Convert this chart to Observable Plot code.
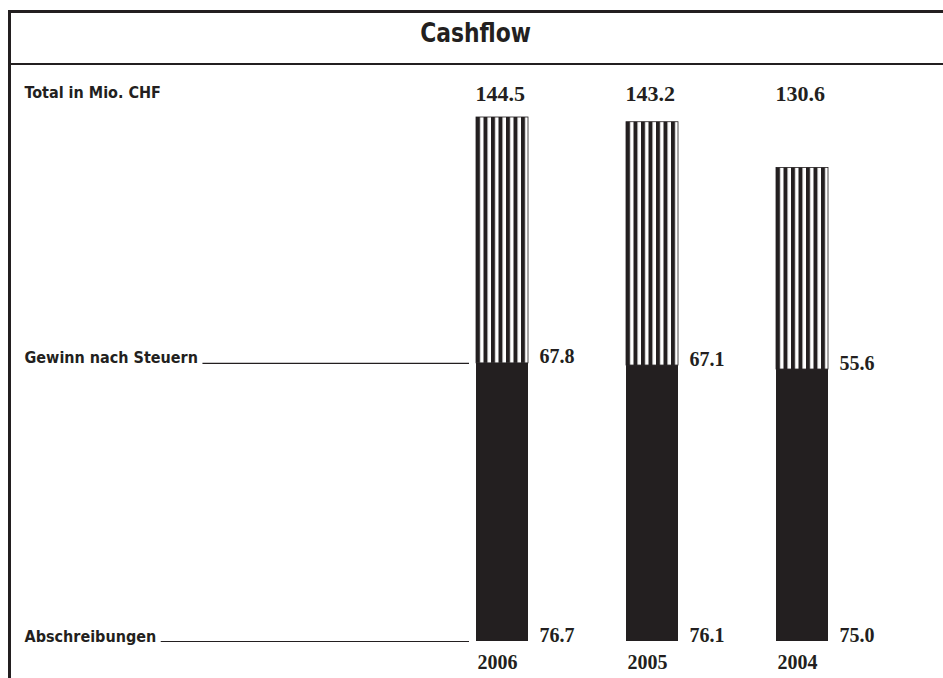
<!DOCTYPE html>
<html>
<head>
<meta charset="utf-8">
<script src="https://cdn.jsdelivr.net/npm/d3@7"></script>
<script src="https://cdn.jsdelivr.net/npm/@observablehq/plot@0.6"></script>
<style>
  html, body { margin: 0; padding: 0; background: white; }
  body { position: relative; width: 943px; height: 678px; overflow: hidden; }
  .line { position: absolute; background: #231f20; }
  #title { position: absolute; left: 8px; width: 935px; top: 20px; text-align: center;
           font-family: "DejaVu Sans Condensed", "DejaVu Sans", sans-serif; font-weight: bold; font-stretch: condensed;
           font-size: 27px; line-height: 26px; color: #231f20; }
  #title span { display: inline-block; transform: scaleX(0.9); }
  #chart { position: absolute; left: 0; top: 67px; }
</style>
</head>
<body>
<div class="line" style="left:8px;top:10px;width:935px;height:3px"></div>
<div class="line" style="left:8px;top:10px;width:3px;height:668px"></div>
<div class="line" style="left:8px;top:63px;width:935px;height:2px"></div>
<div id="title"><span></span></div>
<div id="chart"></div>
<script>
// ---- data ----
const years = ["2006", "2005", "2004"];
const abschreibungen = [76.7, 76.1, 75.0];
const gewinn = [67.8, 67.1, 55.6];
const totals = [144.5, 143.2, 130.6];
const seriesLabels = ["Gewinn nach Steuern", "Abschreibungen"];
const unitLabel = "Total in Mio. CHF";
const titleText = "Cashflow";

document.querySelector("#title span").textContent = titleText;

const rows = years.map((year, i) => ({
  year,
  abschr: abschreibungen[i],
  gewinn: gewinn[i],
  top: abschreibungen[i] + gewinn[i],
  total: totals[i]
}));

const ink = "#231f20";
const labelFont = "'DejaVu Sans Condensed', 'DejaVu Sans', sans-serif";
const numFont = "'Liberation Serif', 'DejaVu Serif', serif";
const labelSize = 16;

// measure label widths for leader-line start
const ctx = document.createElement("canvas").getContext("2d");
ctx.font = `bold ${labelSize}px ${labelFont}`;
const wGewinn = ctx.measureText(seriesLabels[0]).width;
const wAbschr = ctx.measureText(seriesLabels[1]).width;

const leaders = [
  {label: seriesLabels[0], value: abschreibungen[0]},
  {label: seriesLabels[1], value: 0}
];

const chart = Plot.plot({
  width: 943,
  height: 611,
  marginTop: 33,
  marginBottom: 10,
  marginLeft: 24,
  marginRight: 474,
  style: {background: "transparent", color: ink, overflow: "visible"},
  x: {domain: years, range: [378, 926], padding: 0.6533, axis: null},
  y: {domain: [0, 144.5], range: [574, 50], axis: null},
  marks: [
    // Abschreibungen (solid)
    Plot.barY(rows, {x: "year", y1: 0, y2: "abschr", fill: ink, insetLeft: 0, insetRight: 0}),
    // Gewinn nach Steuern (vertical hatch)
    Plot.barY(rows, {x: "year", y1: "abschr", y2: "top", fill: "url(#stripes)", stroke: ink, strokeWidth: 0.8, insetLeft: 0, insetRight: 0}),
    // leader lines
    Plot.ruleY([leaders[0]], {y: "value", stroke: ink, strokeWidth: 1.2, insetLeft: wGewinn + 5}),
    Plot.ruleY([leaders[1]], {y: "value", stroke: ink, strokeWidth: 1.2, insetLeft: wAbschr + 5}),
    // series labels on the left
    Plot.text(leaders, {y: "value", text: "label", frameAnchor: "left", textAnchor: "start", lineAnchor: "bottom",
      fontFamily: labelFont, fontWeight: "bold", fontSize: labelSize, fill: ink}),
    // unit label
    Plot.text([unitLabel], {text: d => d, frameAnchor: "top-left", textAnchor: "start", lineAnchor: "bottom", dy: -3,
      fontFamily: labelFont, fontWeight: "bold", fontSize: 16, fill: ink}),
    // totals
    Plot.text(rows, {x: "year", text: d => d.total.toFixed(1), frameAnchor: "top", textAnchor: "start", lineAnchor: "bottom",
      dx: -27, fontFamily: numFont, fontWeight: "bold", fontSize: 22, fill: ink}),
    // segment values
    Plot.text(rows, {x: "year", y: "abschr", text: d => d.gewinn.toFixed(1), textAnchor: "start", lineAnchor: "bottom",
      dx: 37, fontFamily: numFont, fontWeight: "bold", fontSize: 20, fill: ink}),
    Plot.text(rows, {x: "year", y: 0, text: d => d.abschr.toFixed(1), textAnchor: "start", lineAnchor: "bottom",
      dx: 37, fontFamily: numFont, fontWeight: "bold", fontSize: 20, fill: ink}),
    // year labels
    Plot.text(rows, {x: "year", text: "year", frameAnchor: "bottom", textAnchor: "start", lineAnchor: "bottom",
      dx: -25, fontFamily: numFont, fontWeight: "bold", fontSize: 20, fill: ink})
  ]
});

// stripe pattern aligned to the first bar
const ns = "http://www.w3.org/2000/svg";
const xs = chart.scale("x");
const defs = document.createElementNS(ns, "defs");
const pat = document.createElementNS(ns, "pattern");
pat.setAttribute("id", "stripes");
pat.setAttribute("patternUnits", "userSpaceOnUse");
pat.setAttribute("x", xs.apply(years[0]));
pat.setAttribute("y", 0);
pat.setAttribute("width", 7.5);
pat.setAttribute("height", 10);
const r1 = document.createElementNS(ns, "rect");
r1.setAttribute("width", 7.5); r1.setAttribute("height", 10); r1.setAttribute("fill", "white");
const r2 = document.createElementNS(ns, "rect");
r2.setAttribute("width", 4); r2.setAttribute("height", 10); r2.setAttribute("fill", ink);
pat.appendChild(r1); pat.appendChild(r2);
defs.appendChild(pat);
chart.insertBefore(defs, chart.firstChild);

document.getElementById("chart").appendChild(chart);
</script>
</body>
</html>
